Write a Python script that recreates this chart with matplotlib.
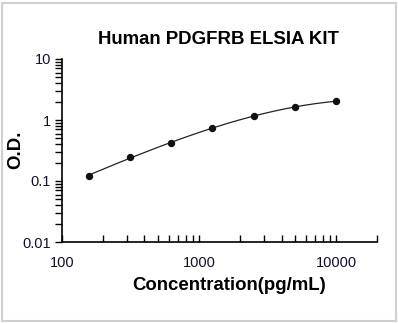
import numpy as np
import matplotlib
matplotlib.use("Agg")
import matplotlib.pyplot as plt
from matplotlib.patches import Rectangle
from matplotlib.ticker import LogLocator, FixedLocator, NullFormatter

conc = [156.25, 312.5, 625, 1250, 2500, 5000, 10000]
od = [0.123, 0.245, 0.415, 0.74, 1.16, 1.65, 2.02]
x_ticks = [100, 1000, 10000]
x_tick_labels = ["100", "1000", "10000"]
y_ticks = [0.01, 0.1, 1, 10]
y_tick_labels = ["0.01", "0.1", "1", "10"]
title = "Human PDGFRB ELSIA KIT"
xlabel = "Concentration(pg/mL)"
ylabel = "O.D."

plt.rcParams['font.family'] = ['Liberation Sans', 'DejaVu Sans']

W, H = 398, 323
fig = plt.figure(figsize=(W/100, H/100), dpi=100)
fig.patches.append(Rectangle((1.5/W, 2.5/H), (W-4)/W, (H-5)/H, transform=fig.transFigure,
                             fill=False, edgecolor='#d0d0d0', linewidth=1.5))

ax = fig.add_axes([62/W, 1-242/H, (377.3-62)/W, (242-59)/H])
ax.set_xscale('log')
ax.set_yscale('log')
ax.set_xlim(100, 20000)
ax.set_ylim(0.01, 10)

# smooth fitted curve (cubic in log-log space)
lx = np.log10(conc)
ly = np.log10(od)
coef = np.polyfit(lx, ly, 3)
xs = np.linspace(lx[0], lx[-1], 200)
ax.plot(10**xs, 10**np.polyval(coef, xs), color='#222222', lw=0.9)
ax.plot(conc, od, 'o', color='#111111', ms=4.3)

for s in ['top', 'right']:
    ax.spines[s].set_visible(False)
for s in ['left', 'bottom']:
    ax.spines[s].set_linewidth(1.2)

ax.xaxis.set_major_locator(FixedLocator(x_ticks))
ax.set_xticklabels(x_tick_labels)
ax.yaxis.set_major_locator(FixedLocator(y_ticks))
ax.set_yticklabels(y_tick_labels)
ax.xaxis.set_minor_locator(LogLocator(base=10, subs=np.arange(2, 10)))
ax.yaxis.set_minor_locator(LogLocator(base=10, subs=np.arange(2, 10)))
ax.xaxis.set_minor_formatter(NullFormatter())
ax.yaxis.set_minor_formatter(NullFormatter())

ax.tick_params(axis='x', which='major', direction='in', length=5, width=1, pad=10, labelsize=10.5, labelcolor='#101030')
ax.tick_params(axis='x', which='minor', direction='in', length=5, width=1)
ax.tick_params(axis='y', which='major', direction='out', length=5, width=1, pad=3, labelsize=10.5, labelcolor='#101030')
ax.tick_params(axis='y', which='minor', direction='out', length=5, width=1)

fig.text(219/W, 1-39/H, title, ha='center', va='center', fontsize=13.4, fontweight='bold')
fig.text(229/W, 1-285/H, xlabel, ha='center', va='center', fontsize=13.4, fontweight='bold')
fig.text(16/W, 1-150/H, ylabel, ha='center', va='center', fontsize=13.4, fontweight='bold', rotation=90)

fig.savefig("out.png", dpi=100)
